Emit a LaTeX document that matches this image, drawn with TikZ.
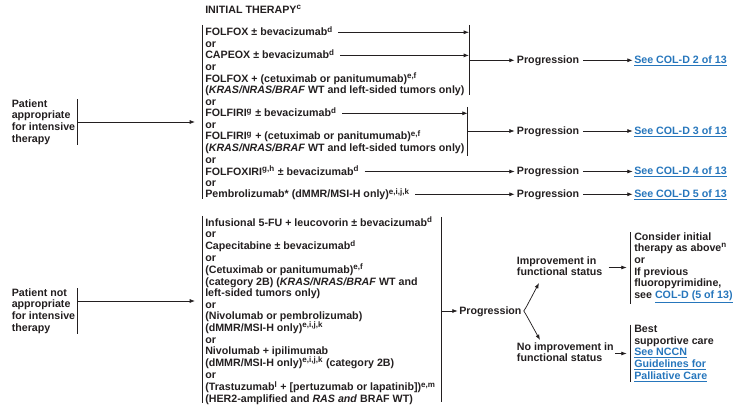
\documentclass[tikz,border=0pt]{standalone}
\usepackage{fontspec}
\setmainfont{Liberation Sans}
\usetikzlibrary{arrows.meta}
\definecolor{ink}{RGB}{35,31,32}
\definecolor{linkblue}{RGB}{38,118,188}
\newcommand\lstrut{\rule[-1.8pt]{0pt}{8.75pt}}
\newcommand\lnk[1]{\textcolor{linkblue}{\underline{#1}}}
\newcommand\fnote[1]{\textsuperscript{#1}}

\begin{document}
\begin{tikzpicture}[x=0.75pt, y=-0.75pt, color=ink, text=ink,
    node font={\bfseries\fontsize{8}{8.75}\selectfont\lineskiplimit=-10pt},
    txt/.style={inner sep=0pt, anchor=west, align=left,
      execute at begin node=\lstrut, execute at end node=\lstrut},
    arr/.style={-{Latex[length=4pt,width=3pt]}, line width=0.55pt},
    bar/.style={line width=0.75pt}]
  \useasboundingbox (0,0) rectangle (736,409);

  \node[txt] (title) at (205,10) {INITIAL THERAPY\fnote{c}};

  % patients fit for intensive therapy
  \node[txt] (pa) at (11.5,122) {Patient\\appropriate\\for intensive\\therapy};
  \draw[bar] ([xshift=1.5pt]pa.north east) -- ([xshift=1.5pt]pa.south east);
  \coordinate (in1) at (195,122);
  \draw[arr] ([xshift=1.5pt]pa.east) -- (in1);
  \draw[bar] (202,25) -- (202,199);

  \node[txt] (o1) at (205,32.3) {FOLFOX {\textpm} bevacizumab\fnote{d}};
  \node[txt] (o2) at (205,55.4) {CAPEOX {\textpm} bevacizumab\fnote{d}};
  \node[txt] (o3) at (205,84.4) {FOLFOX + (cetuximab or panitumumab)\fnote{e,f}\\(\textit{KRAS/NRAS/BRAF} WT and left-sided tumors only)};
  \node[txt] (o4) at (205,113.3) {FOLFIRI\fnote{g} {\textpm} bevacizumab\fnote{d}};
  \node[txt] (o5) at (205,142.2) {FOLFIRI\fnote{g} + (cetuximab or panitumumab)\fnote{e,f}\\(\textit{KRAS/NRAS/BRAF} WT and left-sided tumors only)};
  \node[txt] (o6) at (205,171.5) {FOLFOXIRI\fnote{g,h} {\textpm} bevacizumab\fnote{d}};
  \node[txt] (o7) at (205,194.3) {Pembrolizumab* (dMMR/MSI-H only)\fnote{e,i,j,k}};
  \foreach \y [count=\i] in {43.9,67,101.7,124.9,159.6,182.7}
    \node[txt] (ort\i) at (205,\y) {or};

  \foreach \y/\n in {60.3/2,131/3,171.5/4,194.3/5}{
    \node[txt] (pr\n) at (516.7,\y) {Progression};
    \node[txt] (see\n) at (634,\y) {\lnk{See COL-D \n\ of 13}};
    \draw[arr] ([xshift=3pt]pr\n.east) -- ([xshift=-1pt]see\n.west);
  }

  \coordinate (bar1) at (469,25);
  \draw[bar] (bar1) -- (469,95);
  \draw[arr] ([xshift=4pt]o1.east) -- (o1.east -| bar1);
  \draw[arr] ([xshift=4pt]o2.east) -- (o2.east -| bar1);
  \draw[arr] (pr2.west -| bar1) -- ([xshift=-1.5pt]pr2.west);

  \coordinate (bar2) at (467.7,107);
  \draw[bar] (bar2) -- (467.7,156);
  \draw[arr] ([xshift=4pt]o4.east) -- (o4.east -| bar2);
  \draw[arr] (pr3.west -| bar2) -- ([xshift=-1.5pt]pr3.west);

  \draw[arr] ([xshift=4pt]o6.east) -- ([xshift=-1.5pt]pr4.west);
  \draw[arr] ([xshift=4pt]o7.east) -- ([xshift=-1.5pt]pr5.west);

  % patients not fit for intensive therapy
  \node[txt] (pn) at (11.5,311) {Patient not\\appropriate\\for intensive\\therapy};
  \draw[bar] ([xshift=1.5pt]pn.north east) -- ([xshift=1.5pt]pn.south east);
  \coordinate (pn-out) at (77.5,301);
  \coordinate (in2) at (195,301);
  \draw[arr] (pn-out) -- (in2);
  \draw[bar] (202,216) -- (202,403);

  \node[txt] (u1) at (205,222.7) {Infusional 5-FU + leucovorin {\textpm} bevacizumab\fnote{d}};
  \node[txt] (u2) at (205,246.2) {Capecitabine {\textpm} bevacizumab\fnote{d}};
  \node[txt] (u3) at (205,281.5) {(Cetuximab or panitumumab)\fnote{e,f}\\(category 2B) (\textit{KRAS/NRAS/BRAF} WT and\\left-sided tumors only)};
  \node[txt] (u4) at (205,322.6) {(Nivolumab or pembrolizumab)\\(dMMR/MSI-H only)\fnote{e,i,j,k}};
  \node[txt] (u5) at (205,357.8) {Nivolumab + ipilimumab\\(dMMR/MSI-H only)\fnote{e,i,j,k} (category 2B)};
  \node[txt] (u6) at (205,393.1) {(Trastuzumab\fnote{l} + [pertuzumab or lapatinib])\fnote{e,m}\\(HER2-amplified and \textit{RAS and} BRAF WT)};
  \foreach \y [count=\i] in {234.5,258,305,340.2,375.5}
    \node[txt] (orb\i) at (205,\y) {or};

  \coordinate (bar3) at (441,217);
  \draw[bar] (bar3) -- (441,402);
  \node[txt] (pr6) at (459,311) {Progression};
  \draw[arr] (pr6.west -| bar3) -- ([xshift=-1pt]pr6.west);

  \node[txt] (imp) at (516.7,267.5) {Improvement in\\functional status};
  \node[txt] (noimp) at (516.7,353.5) {No improvement in\\functional status};
  \coordinate (upt) at (539,283);
  \coordinate (dnt) at (540,340);
  \draw[arr] ([xshift=1.5pt]pr6.east) -- ++(2.5,-4) -- (upt);
  \draw[arr] ([xshift=1.5pt]pr6.east) -- ++(2.5,4) -- (dnt);

  \node[txt] (cons) at (634,267.8) {Consider initial\\therapy as above\fnote{n}\\or\\If previous\\fluoropyrimidine,\\see \lnk{COL-D (5 of 13)}};
  \node[txt] (best) at (634,353.4) {Best\\supportive care\\\lnk{See NCCN}\\\lnk{Guidelines for}\\\lnk{Palliative Care}};
  \draw[bar] ([xshift=-2.5pt]cons.north west) -- ([xshift=-2.5pt]cons.south west);
  \draw[bar] ([xshift=-2.5pt]best.north west) -- ([xshift=-2.5pt]best.south west);
  \draw[arr] ([xshift=4.5pt]imp.east) -- ([xshift=-5.5pt]imp.east -| cons.west);
  \draw[arr] ([xshift=1pt]noimp.east) -- ([xshift=-5.5pt]noimp.east -| best.west);
\end{tikzpicture}
\end{document}
